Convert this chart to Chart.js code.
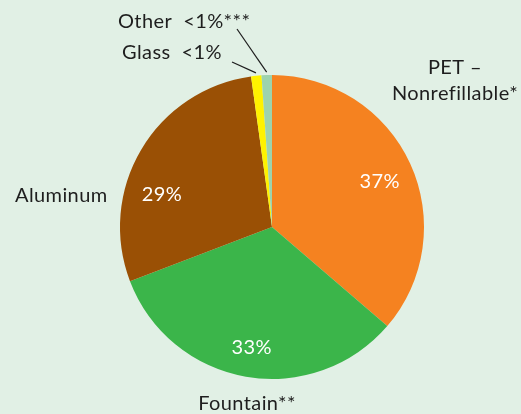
<!DOCTYPE html>
<html>
<head>
<meta charset="utf-8">
<script src="https://cdn.jsdelivr.net/npm/chart.js@4/dist/chart.umd.min.js"></script>
<style>
  html, body { margin: 0; padding: 0; background: #e1f0e5; }
  #wrap { width: 521px; height: 414px; position: relative; }
</style>
</head>
<body>
<div id="wrap"><canvas id="grafico"></canvas></div>
<script>
// Dados do gráfico (participação por embalagem)
const categorias = ['PET –\nNonrefillable*', 'Fountain**', 'Aluminum', 'Glass  <1%', 'Other  <1%***'];
const participacao = [36.3, 32.9, 28.6, 1.1, 1.1];
const rotulosInternos = ['37%', '33%', '29%', '', ''];
const cores = ['#f58220', '#3bb54a', '#9a5005', '#fff200', '#9dd3ad'];

const fonte = '20px Lato, "Open Sans", sans-serif';

// Ajuste fino dos percentuais (px) a partir do meio da fatia
const ajusteInterno = [[0, 4], [0, 4], [-8, 28], [0, 0], [0, 0]];
// Rótulos externos: posição relativa ao centro da pizza
const rotulosExternos = [
    { dx: 183, dy: -159, lh: 26, align: 'center' },   // PET
    { dx: -25, dy: 177, align: 'center' },            // Fountain
    { dx: -257, dy: -31, align: 'left' },             // Aluminum
    { dx: -150, dy: -174, align: 'left', fim: [-40, -165] },  // Glass
    { dx: -154, dy: -205, align: 'left', fim: [-35, -198] }   // Other
];

const rotulos = {
    id: 'rotulos',
    afterDatasetsDraw(chart) {
        const ctx = chart.ctx;
        const arcos = chart.getDatasetMeta(0).data;
        ctx.save();
        ctx.textBaseline = 'middle';
        ctx.font = fonte;
        ctx.letterSpacing = '0.4px';
        arcos.forEach((arco, i) => {
            const { x, y, startAngle, endAngle, outerRadius } = arco.getProps(['x', 'y', 'startAngle', 'endAngle', 'outerRadius'], true);
            const meio = (startAngle + endAngle) / 2;

            // percentuais dentro da fatia
            if (rotulosInternos[i]) {
                const r = outerRadius * 0.78;
                ctx.textAlign = 'center';
                ctx.fillStyle = '#ffffff';
                ctx.fillText(rotulosInternos[i],
                    x + Math.cos(meio) * r + ajusteInterno[i][0],
                    y + Math.sin(meio) * r + ajusteInterno[i][1]);
            }

            // nomes fora da pizza
            const ext = rotulosExternos[i];
            ctx.textAlign = ext.align;
            ctx.fillStyle = '#1e1e1e';
            const linhas = categorias[i].split('\n');
            const lh = ext.lh || 24;
            linhas.forEach((t, k) => ctx.fillText(t, x + ext.dx, y + ext.dy + k * lh));

            // linhas de chamada para as fatias pequenas
            if (ext.fim) {
                const px = x + Math.cos(meio) * (outerRadius + 3);
                const py = y + Math.sin(meio) * (outerRadius + 3);
                ctx.strokeStyle = '#1e1e1e';
                ctx.lineWidth = 1.2;
                ctx.beginPath();
                ctx.moveTo(px, py);
                ctx.lineTo(x + ext.fim[0], y + ext.fim[1]);
                ctx.stroke();
            }
        });
        ctx.restore();
    }
};

new Chart(document.querySelector('#grafico'), {
    type: 'pie',
    data: {
        labels: categorias,
        datasets: [{
            data: participacao,
            backgroundColor: cores,
            borderWidth: 0
        }]
    },
    options: {
        responsive: true,
        maintainAspectRatio: false,
        animation: false,
        layout: { padding: { top: 75, bottom: 35, left: 120, right: 97 } },
        plugins: {
            legend: { display: false },
            tooltip: { enabled: false }
        }
    },
    plugins: [rotulos]
});
</script>
</body>
</html>
